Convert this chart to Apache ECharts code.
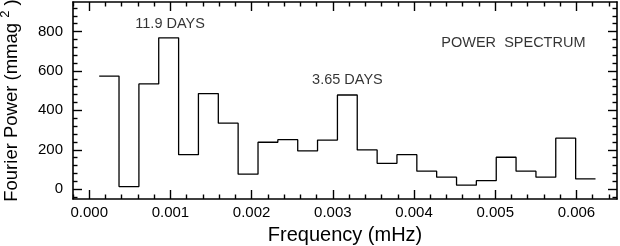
<!DOCTYPE html>
<html>
<head>
<meta charset="utf-8">
<script src="https://cdn.jsdelivr.net/npm/echarts@6/dist/echarts.min.js"></script>
<style>
html,body{margin:0;padding:0;background:#fff;}
#c{width:620px;height:246px;}
</style>
</head>
<body>
<div id="c"></div>
<script>
// Bin centre frequencies (mHz)
var freqs = [0.000245, 0.000489, 0.000734, 0.000978, 0.001223, 0.001467, 0.001712, 0.001956,
             0.002201, 0.002445, 0.002690, 0.002934, 0.003179, 0.003423, 0.003668, 0.003912,
             0.004157, 0.004401, 0.004646, 0.004890, 0.005135, 0.005379, 0.005624, 0.005868, 0.006113];
var binWidth = 0.0002445;
// Fourier power (mmag^2)
var power = [574, 13, 534, 768, 175, 485, 335, 76,
             238, 251, 194, 249, 478, 199, 131, 175,
             91, 61, 20, 43, 162, 91, 61, 259, 52];
// Tick labels
var xTicks = [0.000, 0.001, 0.002, 0.003, 0.004, 0.005, 0.006];
var yTicks = [0, 200, 400, 600, 800];
var xMinorTicks = [-0.0002, 0.0002, 0.0004, 0.0006, 0.0008, 0.0012, 0.0014, 0.0016, 0.0018,
                   0.0022, 0.0024, 0.0026, 0.0028, 0.0032, 0.0034, 0.0036, 0.0038,
                   0.0042, 0.0044, 0.0046, 0.0048, 0.0052, 0.0054, 0.0056, 0.0058, 0.0062, 0.0064];
var yMinorTicks = [-40, 40, 80, 120, 160, 240, 280, 320, 360, 440, 480, 520, 560,
                   640, 680, 720, 760, 840, 880, 920];
// Annotations
var noteText = ['11.9 DAYS', '3.65 DAYS', 'POWER  SPECTRUM'];
var noteX = [0.000996, 0.00318, 0.005224];
var noteY = [839, 556, 741];

var FONT = '"Liberation Sans", Arial, Helvetica, sans-serif';
var XMIN = -0.0002, XMAX = 0.0065, YMIN = -50, YMAX = 950;

var stepPts = freqs.map(function (f, i) { return [f - binWidth / 2, power[i]]; });
stepPts.push([freqs[freqs.length - 1] + binWidth / 2, power[power.length - 1]]);

function xAx(pos, ticks, len, line, labels) {
  return {
    type: 'value', position: pos, min: XMIN, max: XMAX,
    axisLine: {show: line, onZero: false, lineStyle: {color: '#000', width: 1.6}},
    axisTick: {show: true, inside: true, length: len, customValues: ticks, lineStyle: {color: '#000', width: 1.4}},
    axisLabel: labels ? {show: true, customValues: ticks, margin: 6, color: '#000', fontSize: 15, fontFamily: FONT,
      formatter: function (v) { return v.toFixed(3); }} : {show: false},
    splitLine: {show: false}
  };
}
function yAx(pos, ticks, len, line, labels) {
  return {
    type: 'value', position: pos, min: YMIN, max: YMAX,
    axisLine: {show: line, onZero: false, lineStyle: {color: '#000', width: 1.6}},
    axisTick: {show: true, inside: true, length: len, customValues: ticks, lineStyle: {color: '#000', width: 1.4}},
    axisLabel: labels ? {show: true, customValues: ticks, margin: 10, color: '#000', fontSize: 15, fontFamily: FONT} : {show: false},
    splitLine: {show: false}
  };
}

var xa0 = xAx('bottom', xTicks, 9, true, true);
xa0.name = 'Frequency (mHz)';
xa0.nameLocation = 'middle';
xa0.nameGap = 26;
xa0.nameTextStyle = {color: '#000', fontSize: 20, fontFamily: FONT};

var ya0 = yAx('left', yTicks, 9, true, true);
ya0.name = '{a|Fourier Power (mmag }{s|2}{a| )}';
ya0.nameLocation = 'middle';
ya0.nameRotate = 90;
ya0.nameGap = 49;
ya0.nameTextStyle = {
  color: '#000', fontSize: 18.5, fontFamily: FONT,
  rich: {
    a: {color: '#000', fontSize: 18.5, fontFamily: FONT},
    s: {color: '#000', fontSize: 13, fontFamily: FONT, padding: [0, 0, 12, 0]}
  }
};

var chart = echarts.init(document.getElementById('c'), null, {renderer: 'canvas'});
chart.setOption({
  animation: false,
  backgroundColor: '#fff',
  grid: {left: 73, right: 3, top: 2, bottom: 47, containLabel: false, outerBoundsMode: 'none'},
  xAxis: [
    xa0,
    xAx('bottom', xMinorTicks, 4.5, false, false),
    xAx('top', xTicks, 9, true, false),
    xAx('top', xMinorTicks, 4.5, false, false)
  ],
  yAxis: [
    ya0,
    yAx('left', yMinorTicks, 4.5, false, false),
    yAx('right', yTicks, 9, true, false),
    yAx('right', yMinorTicks, 4.5, false, false)
  ],
  series: [
    {
      type: 'line', xAxisIndex: 0, yAxisIndex: 0,
      data: stepPts, step: 'end', showSymbol: false, symbol: 'none',
      lineStyle: {color: '#000', width: 1.3}, silent: true
    },
    {
      type: 'scatter', xAxisIndex: 0, yAxisIndex: 0,
      data: noteX.map(function (x, i) { return {value: [x, noteY[i]], name: noteText[i]}; }),
      symbol: 'rect', symbolSize: 1, itemStyle: {color: 'rgba(0,0,0,0)'}, silent: true,
      label: {show: true, position: 'inside', color: '#000', fontSize: 14.5, fontFamily: FONT,
        formatter: function (p) { return p.name; }}
    }
  ]
});
</script>
</body>
</html>
